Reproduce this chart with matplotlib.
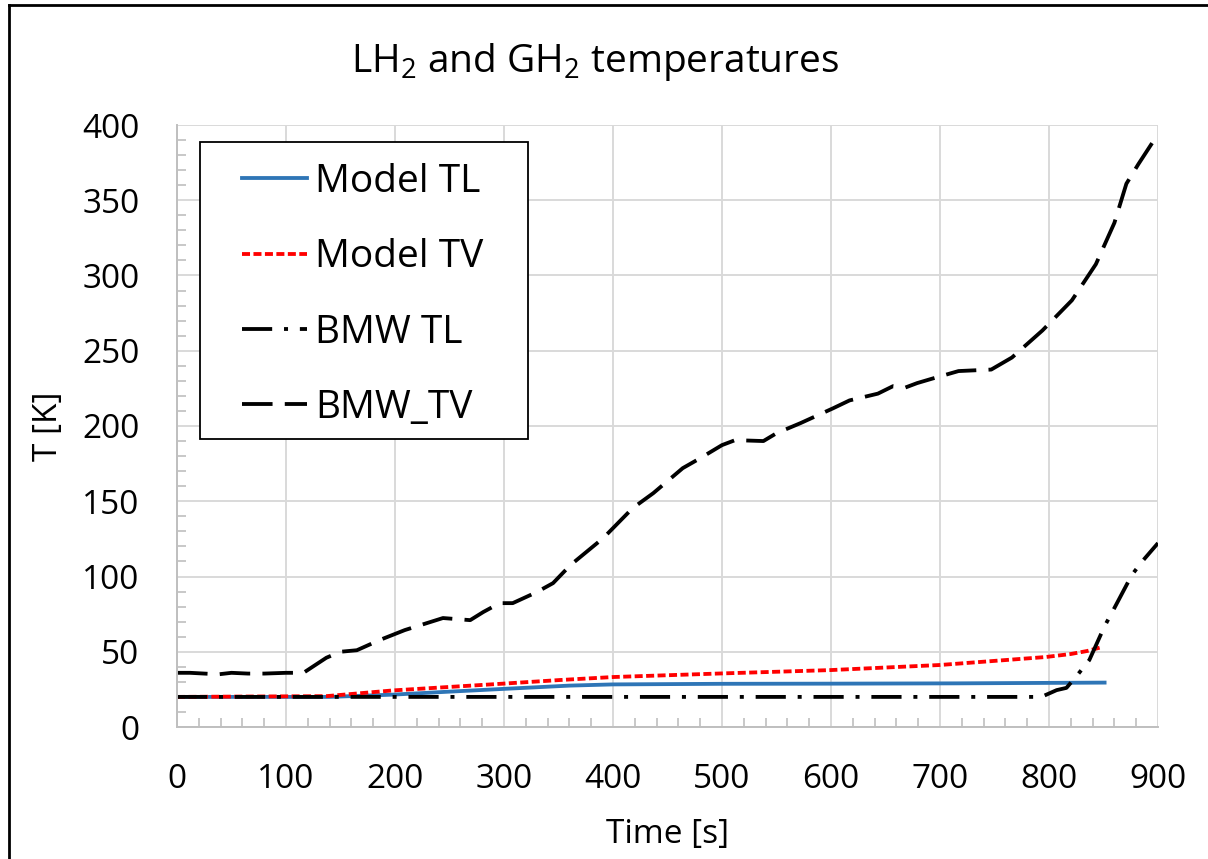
import matplotlib
matplotlib.use('Agg')
import matplotlib.pyplot as plt
from matplotlib.lines import Line2D
from matplotlib.patches import Rectangle
from matplotlib.ticker import MultipleLocator


# data (time in s, temperature in K)
t_model_tl = [0, 140, 198, 250, 299, 360, 400, 500, 600, 715, 851]
T_model_tl = [20, 20, 21.5, 23.5, 25.3, 27.5, 28.3, 28.7, 28.8, 29.0, 29.5]

t_model_tv = [0, 137, 198, 299, 351, 400, 500, 599, 700, 797, 820, 835, 848]
T_model_tv = [20, 20.5, 24.3, 28.8, 31.2, 33.2, 35.6, 37.8, 41.2, 46.5, 48.5, 50.5, 53]

t_bmw_tl = [0, 793, 807, 816, 826, 837, 851, 859, 876, 885, 900]
T_bmw_tl = [20, 20, 24.5, 26, 34.5, 44.5, 67, 77.7, 101, 109.6, 122.2]

t_bmw_tv = [0, 12, 25, 38, 50, 65, 80, 100, 116, 137, 150, 165, 186, 209, 244,
            269, 281, 296, 308, 330, 345, 361, 391, 418, 437, 464, 480, 500,
            512, 538, 550, 572, 602, 617, 643, 657, 668, 679, 693, 717, 747,
            766, 794, 821, 843, 860, 871, 882, 900]
T_bmw_tv = [36, 36, 35.5, 35, 36, 35.5, 35.5, 36, 36, 46, 50, 51, 57.8, 64.4,
            72.4, 71, 76.4, 82.3, 82.3, 89.6, 95.6, 107.6, 125.5, 145.4, 155.4,
            172, 178.6, 187.3, 190.6, 190, 195.2, 201.9, 211.8, 217, 221.5,
            226.5, 225.5, 228.5, 231.5, 236.5, 237.5, 245.5, 263.5, 283.5,
            307.5, 335, 361, 374, 394]

# plot config
params = {
    'font.family': ['Open Sans', 'DejaVu Sans'],
    'mathtext.fontset': 'custom',
    'mathtext.rm': 'Open Sans',
    'mathtext.it': 'Open Sans:italic',
    'mathtext.default': 'regular',
    'axes.facecolor': 'white',
    'figure.facecolor': 'white',
    'xtick.labelsize': 24,
    'ytick.labelsize': 24,
    'axes.labelsize': 24,
}
plt.rcParams.update(params)

fig = plt.figure(figsize=(12.08, 8.59), dpi=100)
ax = fig.add_axes([177 / 1208, 1 - 727 / 859, 981 / 1208, 602 / 859])

lw = 2.75
ax.plot(t_model_tl, T_model_tl, color='#2E75B6', lw=lw, label='Model TL')
ax.plot(t_model_tv, T_model_tv, color='#FF0000', lw=lw,
        linestyle=(0, (2.1, 0.9)), label='Model TV')
ax.plot(t_bmw_tl, T_bmw_tl, color='black', lw=lw,
        linestyle=(0, (7.9, 3.1, 1.05, 3.1)), label='BMW TL')
ax.plot(t_bmw_tv, T_bmw_tv, color='black', lw=lw,
        linestyle=(0, (8, 3.2)), label='BMW_TV')

# axes
ax.set_xlim(0, 900)
ax.set_ylim(0, 400)
ax.xaxis.set_major_locator(MultipleLocator(100))
ax.xaxis.set_minor_locator(MultipleLocator(20))
ax.yaxis.set_major_locator(MultipleLocator(50))
ax.yaxis.set_minor_locator(MultipleLocator(10))
ax.grid(True, which='major', color='#d9d9d9', lw=1.4)
ax.set_axisbelow(True)
for side in ('top', 'right'):
    ax.spines[side].set_visible(False)
for side in ('left', 'bottom'):
    ax.spines[side].set_color('#bfbfbf')
    ax.spines[side].set_linewidth(1.4)
ax.tick_params(which='both', direction='in', color='#bfbfbf', width=1.2)
ax.tick_params(which='major', length=0)
ax.tick_params(which='minor', length=6.5)
ax.tick_params(axis='x', which='major', pad=26)
ax.tick_params(axis='y', which='major', pad=27)

ax.set_xlabel('Time [s]')
ax.set_ylabel('T [K]')
ax.xaxis.set_label_coords(0.5, -0.151)
ax.yaxis.set_label_coords(-0.114, 0.5)

# legend with a square frame
ax.add_patch(Rectangle((0.0234, 0.4784), 0.3344, 0.4934, transform=ax.transAxes,
                       facecolor='white', edgecolor='black', lw=1.3,
                       zorder=4.5, clip_on=False))
ax.legend(loc='upper left', bbox_to_anchor=(0.0663, 0.937), frameon=False,
          fontsize=28, borderpad=0, borderaxespad=0, handlelength=1.68,
          handletextpad=0.2, labelspacing=0.96)

fig.text(595 / 1208, 1 - 72 / 859, r'LH$_2$ and GH$_2$ temperatures',
         ha='center', va='baseline', fontsize=28)

# outer frame (top and left only, as in the reference)
fig.add_artist(Line2D([9 / 1208, 1], [1 - 5 / 859] * 2,
                      transform=fig.transFigure, color='black', lw=2))
fig.add_artist(Line2D([9 / 1208] * 2, [0, 1 - 5 / 859],
                      transform=fig.transFigure, color='black', lw=2))

fig.savefig('out.png', dpi=100)
